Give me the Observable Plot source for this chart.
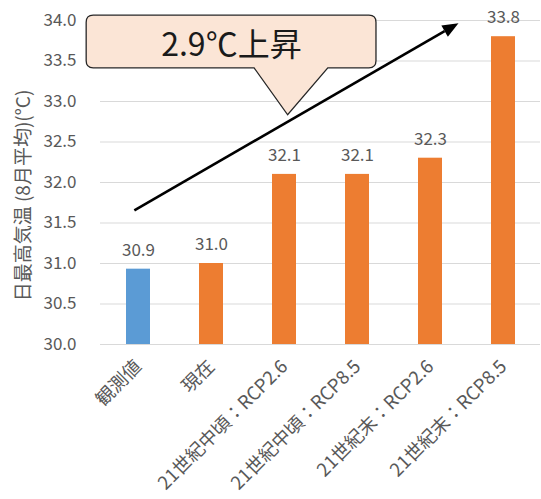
<!DOCTYPE html>
<html><head><meta charset="utf-8">
<script src="https://cdn.jsdelivr.net/npm/d3@7"></script>
<script src="https://cdn.jsdelivr.net/npm/@observablehq/plot@0.6"></script>
<style>
body{margin:0;background:#fff;}
#chart svg{display:block;}
</style>
</head><body><div id="chart"></div>
<script>
// ---- data ----
const categories = ["観測値", "現在", "21世紀中頃：RCP2.6", "21世紀中頃：RCP8.5", "21世紀末：RCP2.6", "21世紀末：RCP8.5"];
const values = [30.93, 31.0, 32.1, 32.1, 32.3, 33.8];
const kinds = ["観測", "予測", "予測", "予測", "予測", "予測"];
const yTicks = [30.0, 30.5, 31.0, 31.5, 32.0, 32.5, 33.0, 33.5, 34.0];
const yLabel = "日最高気温 (8月平均)(°C)";
const calloutText = "2.9℃上昇";

// ---- annotation anchors: [fractional category index, temperature] ----
const arrowFrom = [-0.05, 31.65];
const arrowTo = [4.39, 33.96];
const bubbleBox = {left: -0.71, right: 3.26, top: 34.06, bottom: 33.41};
const bubblePointer = {baseLeft: 1.59, baseRight: 2.60, tipX: 2.05, tipY: 32.83};
const bubbleLabel = [1.28, 33.73];

const colors = {"観測": "#5B9BD5", "予測": "#ED7D31"};
const font = "'Noto Sans CJK JP', 'Noto Sans', sans-serif";

const data = categories.map((c, i) => ({cat: c, value: values[i], kind: kinds[i]}));

function annotations(index, scales) {
  const x = scales.x, y = scales.y;
  const bw = x.bandwidth();
  const step = x.step();
  const c0 = x(categories[0]) + bw / 2;
  const px = f => c0 + f * step;
  const g = d3.create("svg:g");
  // arrow
  const x1 = px(arrowFrom[0]), y1 = y(arrowFrom[1]);
  const x2 = px(arrowTo[0]), y2 = y(arrowTo[1]);
  const ang = Math.atan2(y2 - y1, x2 - x1);
  const hl = 16, hw = 6.5;
  const bx = x2 - hl * Math.cos(ang), by = y2 - hl * Math.sin(ang);
  g.append("line").attr("x1", x1).attr("y1", y1).attr("x2", bx).attr("y2", by)
    .attr("stroke", "#000").attr("stroke-width", 2.6);
  g.append("path")
    .attr("d", `M${x2},${y2}L${bx - hw * Math.sin(ang)},${by + hw * Math.cos(ang)}L${bx + hw * Math.sin(ang)},${by - hw * Math.cos(ang)}Z`)
    .attr("fill", "#000");
  // bubble
  const L = px(bubbleBox.left), R = px(bubbleBox.right), T = y(bubbleBox.top), B = y(bubbleBox.bottom);
  const r = 7;
  const bl = px(bubblePointer.baseLeft), br = px(bubblePointer.baseRight);
  const tx = px(bubblePointer.tipX), ty = y(bubblePointer.tipY);
  const d = `M${L + r},${T}H${R - r}Q${R},${T} ${R},${T + r}V${B - r}Q${R},${B} ${R - r},${B}` +
    `H${br}L${tx},${ty}L${bl},${B}H${L + r}Q${L},${B} ${L},${B - r}V${T + r}Q${L},${T} ${L + r},${T}Z`;
  g.append("path").attr("d", d).attr("fill", "#FBE5D6").attr("stroke", "#262626").attr("stroke-width", 1.3);
  g.append("text").attr("x", px(bubbleLabel[0])).attr("y", y(bubbleLabel[1]))
    .attr("text-anchor", "middle").attr("dominant-baseline", "central")
    .attr("font-size", 32).attr("fill", "#1a1a1a").attr("font-family", font)
    .text(calloutText);
  return g.node();
}

const chart = Plot.plot({
  width: 541,
  height: 499,
  marginLeft: 100,
  marginRight: 1,
  marginTop: 20,
  marginBottom: 155,
  style: {fontFamily: font, background: "#fff"},
  x: {domain: categories, paddingInner: 0.676, paddingOuter: 0.318, label: null},
  y: {domain: [30, 34], label: null},
  marks: [
    Plot.gridY(yTicks, {stroke: "#d9d9d9", strokeOpacity: 1, strokeWidth: 1}),
    Plot.barY(data, {x: "cat", y1: yTicks[0], y2: "value", fill: d => colors[d.kind]}),
    Plot.text(data, {x: "cat", y: "value", text: d => d.value.toFixed(1), dy: -19, fontSize: 17, fill: "#595959"}),
    Plot.axisY(yTicks, {tickFormat: d => d.toFixed(1), tickSize: 0, tickPadding: 24, fontSize: 17, fill: "#595959", label: null}),
    Plot.axisX({tickRotate: -45, tickSize: 0, tickPadding: 19, fontSize: 18.5, fill: "#595959", label: null}),
    Plot.text([yLabel], {frameAnchor: "left", dx: -77, dy: 13, rotate: -90, textAnchor: "middle", fontSize: 19, fill: "#595959"}),
    annotations
  ]
});
document.getElementById("chart").appendChild(chart);
</script>
</body></html>
